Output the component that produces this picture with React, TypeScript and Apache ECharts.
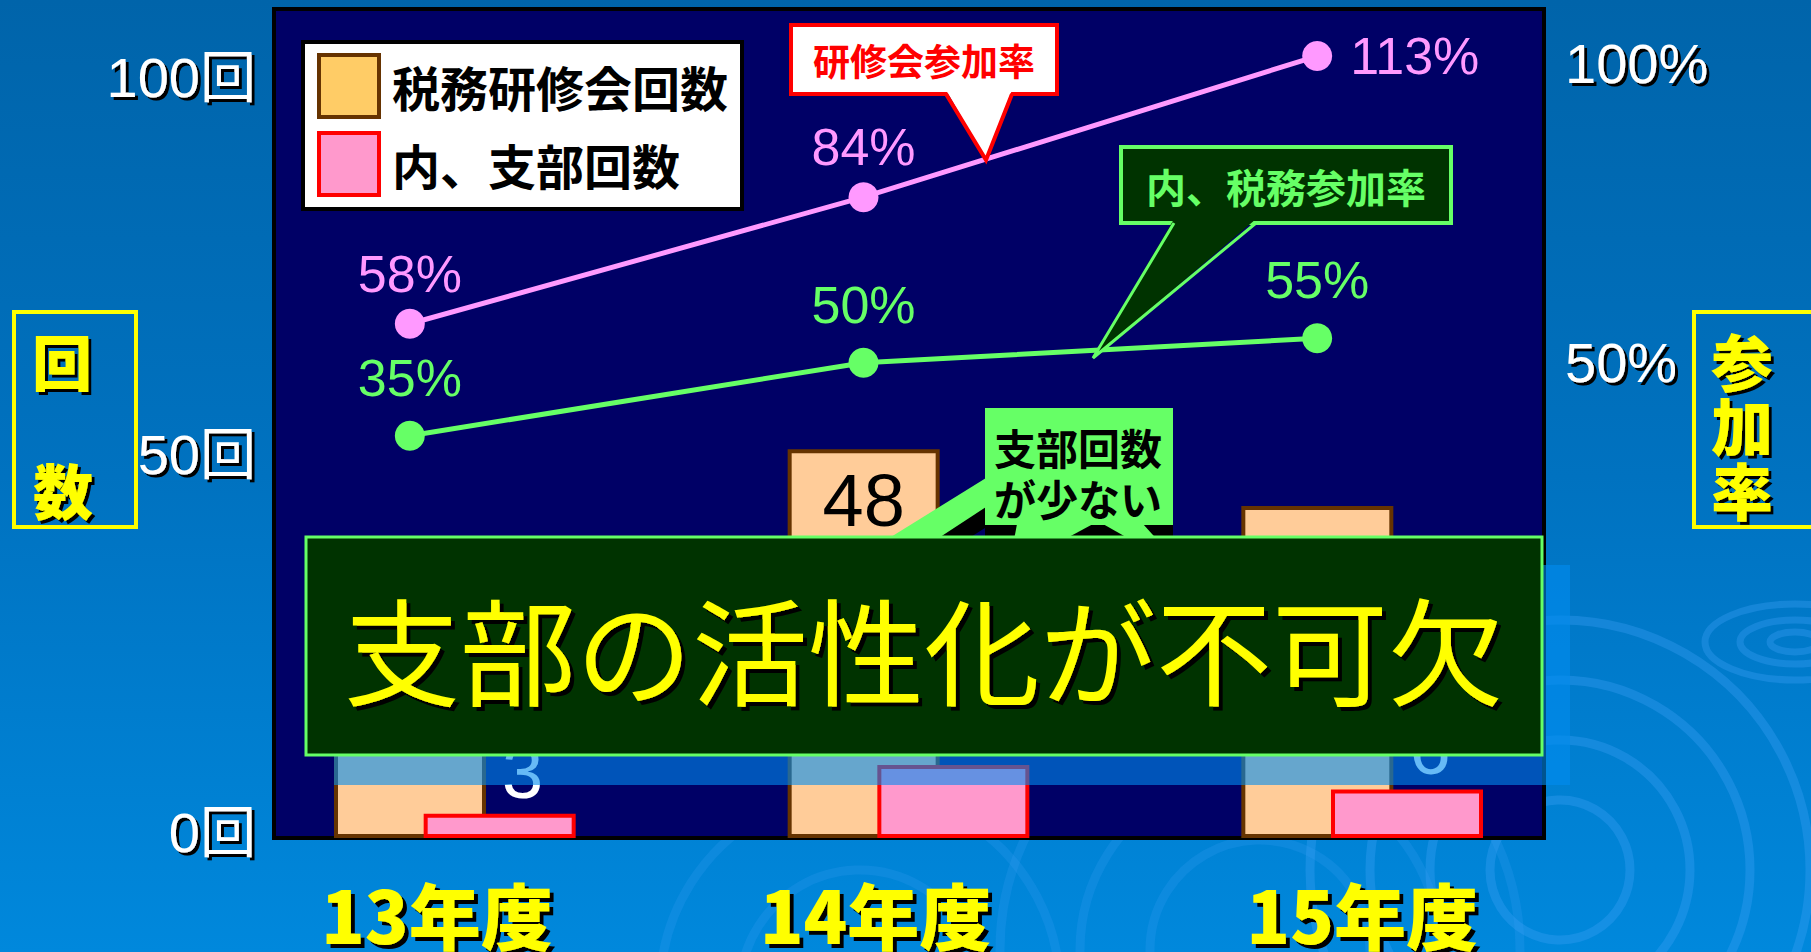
import React, { useEffect, useRef } from "react";
import * as echarts from "echarts";

// ---- data ----
const categories = ["13年度", "14年度", "15年度"];
const seminarCounts = [30, 48, 41]; // 税務研修会回数 (13年度 value hidden in reference, estimated)
const branchCounts = [3, 9, 6]; // 内、支部回数
const attendRate = [58, 84, 113]; // 研修会参加率 (%)
const taxAttendRate = [35, 50, 55]; // 内、税務参加率 (%)
const countAxisTicks = [0, 50, 100]; // 回
const rateAxisTicks = [50, 100]; // %

const CJK = "'Noto Sans CJK JP', 'Noto Sans CJK SC', sans-serif";
const NARROW = "'Liberation Sans Narrow', 'Liberation Sans', 'Noto Sans CJK JP', sans-serif";

const shadow = (dx: number, dy: number) => ({
  textShadowColor: "#000000",
  textShadowOffsetX: dx,
  textShadowOffsetY: dy,
  textShadowBlur: 1,
});

function txt(text: string, x: number, y: number, size: number, fill: string, weight: any, family: string, z: number, sh?: number, align = "center") {
  return {
    type: "text",
    x,
    y,
    z,
    silent: true,
    style: {
      text,
      fill,
      fontSize: size,
      fontWeight: weight,
      fontFamily: family,
      align,
      textAlign: align,
      verticalAlign: "middle",
      textVerticalAlign: "middle",
      ...(sh ? shadow(sh, sh) : {}),
    },
  };
}

export default function App() {
  const ref = useRef<HTMLDivElement>(null);
  useEffect(() => {
    document.body.style.margin = "0";
    document.body.style.overflow = "hidden";
    if (!ref.current) return;
    const chart = echarts.init(ref.current, null, { renderer: "svg" });

    const ripple = "rgba(60,160,245,0.35)";
    const ripple2 = "rgba(60,160,245,0.22)";
    const graphic: any[] = [
      // ripples in the background
      ...[70, 130, 190, 250].map((r) => ({ type: "circle", z: 0, silent: true, shape: { cx: 1560, cy: 870, r }, style: { fill: "none", stroke: ripple, lineWidth: 9 } })),
      ...[110, 180, 260].map((r) => ({ type: "circle", z: 0, silent: true, shape: { cx: 1260, cy: 950, r }, style: { fill: "none", stroke: ripple2, lineWidth: 9 } })),
      ...[120, 200].map((r) => ({ type: "circle", z: 0, silent: true, shape: { cx: 860, cy: 990, r }, style: { fill: "none", stroke: ripple2, lineWidth: 9 } })),
      ...[[25, 10], [55, 22], [90, 38]].map(([rx, ry]) => ({ type: "ellipse", z: 0, silent: true, shape: { cx: 1795, cy: 642, rx, ry }, style: { fill: "none", stroke: ripple, lineWidth: 7 } })),
      // plot area
      { type: "rect", z: 1, silent: true, shape: { x: 274, y: 9, width: 1270, height: 829 }, style: { fill: "#000066", stroke: "#000000", lineWidth: 4 } },
      // axis title boxes
      { type: "rect", z: 1, silent: true, shape: { x: 14, y: 312, width: 122, height: 215 }, style: { fill: "none", stroke: "#FFFF00", lineWidth: 4 } },
      txt("回", 62, 359, 60, "#FFFF00", 900, CJK, 2, 3),
      txt("数", 63, 488, 60, "#FFFF00", 900, CJK, 2, 3),
      { type: "rect", z: 1, silent: true, shape: { x: 1694, y: 312, width: 140, height: 215 }, style: { fill: "none", stroke: "#FFFF00", lineWidth: 4 } },
      txt("参", 1742, 360, 62, "#FFFF00", 900, CJK, 2, 3),
      txt("加", 1742, 424, 62, "#FFFF00", 900, CJK, 2, 3),
      txt("率", 1742, 489, 62, "#FFFF00", 900, CJK, 2, 3),
      // callout: 研修会参加率
      { type: "rect", z: 100, silent: true, shape: { x: 791, y: 25, width: 266, height: 69 }, style: { fill: "#FFFFFF", stroke: "#FF0000", lineWidth: 4 } },
      { type: "polygon", z: 101, silent: true, shape: { points: [[946, 90], [1012, 90], [986, 160]] }, style: { fill: "#FFFFFF" } },
      { type: "polyline", z: 102, silent: true, shape: { points: [[946, 94], [986, 160], [1012, 94]] }, style: { fill: "none", stroke: "#FF0000", lineWidth: 4 } },
      txt("研修会参加率", 924, 60, 37, "#FF0000", "bold", CJK, 103),
      // callout: 内、税務参加率
      { type: "rect", z: 100, silent: true, shape: { x: 1121, y: 147, width: 330, height: 76 }, style: { fill: "#003300", stroke: "#66FF66", lineWidth: 4 } },
      { type: "polygon", z: 101, silent: true, shape: { points: [[1174, 219], [1256, 219], [1093, 358]] }, style: { fill: "#003300" } },
      { type: "polyline", z: 102, silent: true, shape: { points: [[1174, 223], [1093, 358], [1256, 223]] }, style: { fill: "none", stroke: "#66FF66", lineWidth: 3 } },
      txt("内、税務参加率", 1286, 186, 40, "#66FF66", "bold", CJK, 103),
      // callout: 支部回数が少ない
      { type: "rect", z: 100, silent: true, shape: { x: 985, y: 408, width: 188, height: 135 }, style: { fill: "#000000" } },
      { type: "polygon", z: 100, silent: true, shape: { points: [[985, 505], [985, 528], [958, 545], [925, 545]] }, style: { fill: "#000000" } },
      { type: "polygon", z: 101, silent: true, shape: { points: [[986, 478], [986, 507], [928, 545], [878, 545]] }, style: { fill: "#66FF66" } },
      { type: "rect", z: 101, silent: true, shape: { x: 985, y: 408, width: 188, height: 117 }, style: { fill: "#66FF66" } },
      { type: "polygon", z: 101, silent: true, shape: { points: [[1017, 524], [1093, 524], [1054, 545], [1013, 545]] }, style: { fill: "#66FF66" } },
      { type: "polygon", z: 101, silent: true, shape: { points: [[1103, 524], [1143, 524], [1162, 545], [1140, 545]] }, style: { fill: "#66FF66" } },
      txt("支部回数", 1078, 446, 42, "#000000", "bold", CJK, 103),
      txt("が少ない", 1078, 497, 42, "#000000", "bold", CJK, 103),
      // banner with its dithered shadow
      { type: "rect", z: 104, silent: true, shape: { x: 334, y: 565, width: 1236, height: 220 }, style: { fill: "rgba(0,140,240,0.6)" } },
      { type: "rect", z: 105, silent: true, shape: { x: 306, y: 537, width: 1236, height: 218 }, style: { fill: "#003300", stroke: "#66FF66", lineWidth: 3 } },
      txt("支部の活性化が不可欠", 924, 646, 116, "#FFFF00", "normal", CJK, 106, 4),
    ];

    const catRich = (pad: number[]) => ({
      fontSize: 72,
      lineHeight: 72,
      fontWeight: 900,
      color: "#FFFF00",
      fontFamily: CJK,
      padding: pad,
      ...shadow(4, 4),
    });

    const option: any = {
      animation: false,
      backgroundColor: new echarts.graphic.LinearGradient(0, 0, 0, 1, [
        { offset: 0, color: "#0064AA" },
        { offset: 0.5, color: "#0072C0" },
        { offset: 1, color: "#0088DC" },
      ]),
      graphic,
      legend: {
        left: 303,
        top: 42,
        orient: "vertical",
        selectedMode: false,
        backgroundColor: "#FFFFFF",
        borderColor: "#000000",
        borderWidth: 4,
        borderRadius: 0,
        padding: [11, 14, 12, 14],
        itemGap: 12,
        itemWidth: 60,
        itemHeight: 62,
        z: 10,
        textStyle: { fontSize: 48, fontWeight: "bold", color: "#000000", fontFamily: CJK, padding: [0, 0, 0, 8] },
        data: [
          { name: "税務研修会回数", icon: "rect", itemStyle: { color: "#FFCC66", borderColor: "#663300", borderWidth: 4 } },
          { name: "内、支部回数", icon: "rect", itemStyle: { color: "#FF99CC", borderColor: "#FF0000", borderWidth: 4 } },
        ],
      },
      grid: [
        { left: 228, right: 222, top: 28, bottom: 114 }, // bars
        { left: 183, right: 267, top: 22, bottom: 346 }, // lines
        { left: 274, right: 267, top: 77, bottom: 120 }, // 回 axis
        { left: 274, right: 267, top: 63, bottom: 291 }, // % axis
      ],
      xAxis: [
        {
          type: "category",
          gridIndex: 0,
          data: categories,
          axisLine: { show: false },
          axisTick: { show: false },
          axisLabel: {
            margin: 38,
            verticalAlign: "top",
            formatter: (v: string, i: number) => `{c${i}|${v}}`,
            rich: {
              c0: catRich([0, 36, 0, 0]),
              c1: catRich([0, 66, 0, 0]),
              c2: catRich([0, 0, 0, 0]),
            },
          },
        },
        { type: "category", gridIndex: 1, data: categories, show: false },
        { type: "value", gridIndex: 2, show: false },
        { type: "value", gridIndex: 3, show: false },
      ],
      yAxis: [
        { type: "value", gridIndex: 0, min: 0, max: 100, show: false },
        { type: "value", gridIndex: 1, min: 0, max: 120, show: false },
        {
          type: "value",
          gridIndex: 2,
          min: countAxisTicks[0],
          max: countAxisTicks[countAxisTicks.length - 1],
          interval: countAxisTicks[1] - countAxisTicks[0],
          position: "left",
          axisLine: { show: false },
          axisTick: { show: false },
          splitLine: { show: false },
          axisLabel: {
            margin: 18,
            formatter: (v: number) => (countAxisTicks.includes(v) ? `${v}回` : ""),
            color: "#FFFFFF",
            fontSize: 56,
            fontFamily: NARROW,
            ...shadow(3, 3),
          },
        },
        {
          type: "value",
          gridIndex: 3,
          min: 0,
          max: rateAxisTicks[rateAxisTicks.length - 1],
          interval: rateAxisTicks[0],
          position: "right",
          axisLine: { show: false },
          axisTick: { show: false },
          splitLine: { show: false },
          axisLabel: {
            margin: 21,
            formatter: (v: number) => (rateAxisTicks.includes(v) ? `${v}%` : ""),
            color: "#FFFFFF",
            fontSize: 56,
            fontFamily: NARROW,
            ...shadow(3, 3),
          },
        },
      ],
      series: [
        {
          name: "税務研修会回数",
          type: "bar",
          xAxisIndex: 0,
          yAxisIndex: 0,
          data: seminarCounts.map((v, i) => (i === 1 ? v : { value: v, label: { position: "inside" } })),
          barWidth: 152,
          barGap: "-41%",
          z: 3,
          itemStyle: { color: "#FFCC99", borderColor: "#663300", borderWidth: 4 },
          label: { show: true, position: "insideTop", distance: 14, color: "#000000", fontSize: 74, fontFamily: NARROW },
        },
        {
          name: "内、支部回数",
          type: "bar",
          xAxisIndex: 0,
          yAxisIndex: 0,
          data: branchCounts,
          barWidth: 152,
          barGap: "-41%",
          z: 4,
          itemStyle: { color: "#FF99CC", borderColor: "#FF0000", borderWidth: 4 },
          label: { show: true, position: "top", distance: 4, offset: [23, 0], color: "#FFFFFF", fontSize: 74, fontFamily: NARROW },
        },
        {
          name: "研修会参加率",
          type: "line",
          xAxisIndex: 1,
          yAxisIndex: 1,
          data: attendRate.map((v, i) => (i === attendRate.length - 1 ? { value: v, label: { position: "right", distance: 18 } } : v)),
          symbol: "circle",
          symbolSize: 30,
          z: 5,
          itemStyle: { color: "#FF99FF" },
          lineStyle: { color: "#FF99FF", width: 5 },
          label: { show: true, position: "top", distance: 9, formatter: "{c}%", color: "#FF99FF", fontSize: 52, fontFamily: NARROW },
        },
        {
          name: "内、税務参加率",
          type: "line",
          xAxisIndex: 1,
          yAxisIndex: 1,
          data: taxAttendRate,
          symbol: "circle",
          symbolSize: 30,
          z: 5,
          itemStyle: { color: "#66FF66" },
          lineStyle: { color: "#66FF66", width: 5 },
          label: { show: true, position: "top", distance: 17, formatter: "{c}%", color: "#66FF66", fontSize: 52, fontFamily: NARROW },
        },
      ],
    };
    chart.setOption(option);
    return () => chart.dispose();
  }, []);
  return <div ref={ref} style={{ width: 1811, height: 952 }} />;
}
